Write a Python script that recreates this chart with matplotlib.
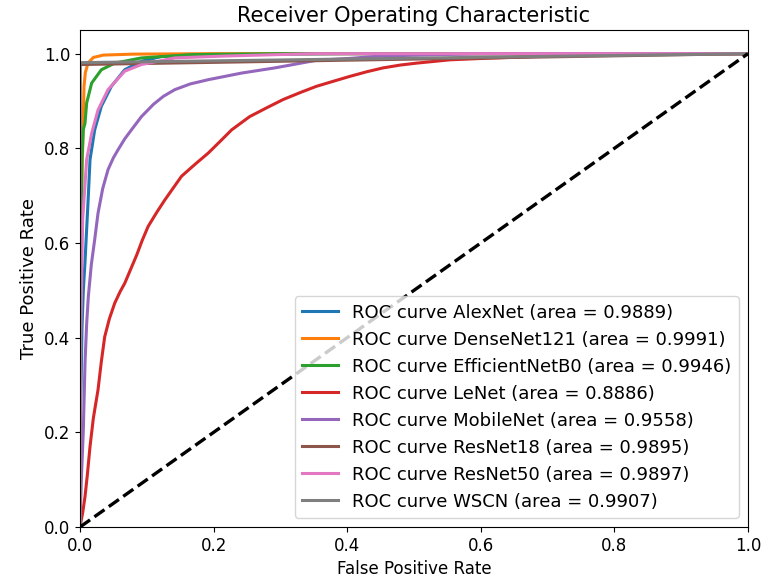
import matplotlib
matplotlib.use("Agg")
import matplotlib.pyplot as plt

# ROC curves (fpr, tpr)
alex_fpr = [0, 0.001, 0.003, 0.005, 0.0075, 0.0125, 0.015, 0.022, 0.032, 0.047, 0.067, 0.092, 0.122, 0.2, 0.4, 1.0]
alex_tpr = [0, 0.25, 0.42, 0.50, 0.56, 0.70, 0.776, 0.839, 0.889, 0.931, 0.966, 0.984, 0.994, 0.998, 1.0, 1.0]

dense_fpr = [0, 0.001, 0.003, 0.004, 0.006, 0.008, 0.012, 0.02, 0.035, 0.08, 0.2, 1.0]
dense_tpr = [0, 0.55, 0.75, 0.80, 0.93, 0.96, 0.98, 0.992, 0.997, 0.999, 1.0, 1.0]

eff_fpr = [0, 0.001, 0.003, 0.005, 0.0075, 0.01, 0.0175, 0.032, 0.052, 0.092, 0.167, 0.3, 1.0]
eff_tpr = [0, 0.50, 0.78, 0.84, 0.853, 0.896, 0.938, 0.966, 0.98, 0.991, 0.998, 1.0, 1.0]

lenet_fpr = [0, 0.004, 0.0075, 0.011, 0.015, 0.02, 0.027, 0.032, 0.037, 0.044, 0.052, 0.06, 0.067,
             0.076, 0.085, 0.093, 0.102, 0.115, 0.127, 0.14, 0.152, 0.172, 0.192, 0.21, 0.227,
             0.254, 0.28, 0.304, 0.33, 0.354, 0.38, 0.404, 0.43, 0.454, 0.48, 0.504, 0.554,
             0.604, 0.7, 0.8, 1.0]
lenet_tpr = [0, 0.03, 0.064, 0.11, 0.17, 0.23, 0.29, 0.35, 0.402, 0.44, 0.473, 0.497, 0.515,
             0.545, 0.575, 0.605, 0.635, 0.665, 0.691, 0.717, 0.741, 0.766, 0.79, 0.815, 0.839,
             0.867, 0.886, 0.903, 0.918, 0.931, 0.942, 0.952, 0.962, 0.97, 0.976, 0.98, 0.987,
             0.99, 0.995, 0.998, 1.0]

mobile_fpr = [0, 0.002, 0.005, 0.0075, 0.01, 0.0125, 0.017, 0.022, 0.027, 0.034, 0.042, 0.05,
              0.057, 0.067, 0.077, 0.092, 0.11, 0.125, 0.142, 0.165, 0.192, 0.242, 0.292,
              0.354, 0.404, 0.45, 0.6, 1.0]
mobile_tpr = [0, 0.10, 0.205, 0.346, 0.43, 0.487, 0.555, 0.607, 0.663, 0.715, 0.755, 0.78,
              0.797, 0.82, 0.839, 0.867, 0.893, 0.91, 0.924, 0.936, 0.945, 0.959, 0.97,
              0.986, 0.99, 0.995, 1.0, 1.0]

r18_fpr = [0, 0, 1.0]
r18_tpr = [0, 0.977, 1.0]

r50_fpr = [0, 0.001, 0.004, 0.01, 0.0175, 0.027, 0.042, 0.067, 0.092, 0.142, 0.217, 0.35, 1.0]
r50_tpr = [0, 0.40, 0.65, 0.776, 0.832, 0.881, 0.924, 0.963, 0.977, 0.991, 0.995, 1.0, 1.0]

wscn_fpr = [0, 0, 1.0]
wscn_tpr = [0, 0.981, 1.0]

names = ["AlexNet", "DenseNet121", "EfficientNetB0", "LeNet", "MobileNet", "ResNet18", "ResNet50", "WSCN"]
aucs = [0.9889, 0.9991, 0.9946, 0.8886, 0.9558, 0.9895, 0.9897, 0.9907]
fprs = [alex_fpr, dense_fpr, eff_fpr, lenet_fpr, mobile_fpr, r18_fpr, r50_fpr, wscn_fpr]
tprs = [alex_tpr, dense_tpr, eff_tpr, lenet_tpr, mobile_tpr, r18_tpr, r50_tpr, wscn_tpr]

plt.rcParams['font.size'] = 12
fig = plt.figure(figsize=(7.64, 5.88), dpi=100)
ax = fig.add_axes([0.1047, 0.1037, 0.8743, 0.8453])

for name, auc, f, t in zip(names, aucs, fprs, tprs):
    ax.plot(f, t, lw=2.2, label=f"ROC curve {name} (area = {auc:.4f})")
ax.plot([0, 1], [0, 1], 'k--', lw=2.4)

ax.set_xlim(0, 1.0)
ax.set_ylim(0, 1.05)
ax.set_xlabel("False Positive Rate")
ax.set_ylabel("True Positive Rate", fontsize=13)
ax.set_title("Receiver Operating Characteristic", fontsize=15)
ax.legend(loc="lower right", fontsize=13)

fig.savefig("out.png", dpi=100)
